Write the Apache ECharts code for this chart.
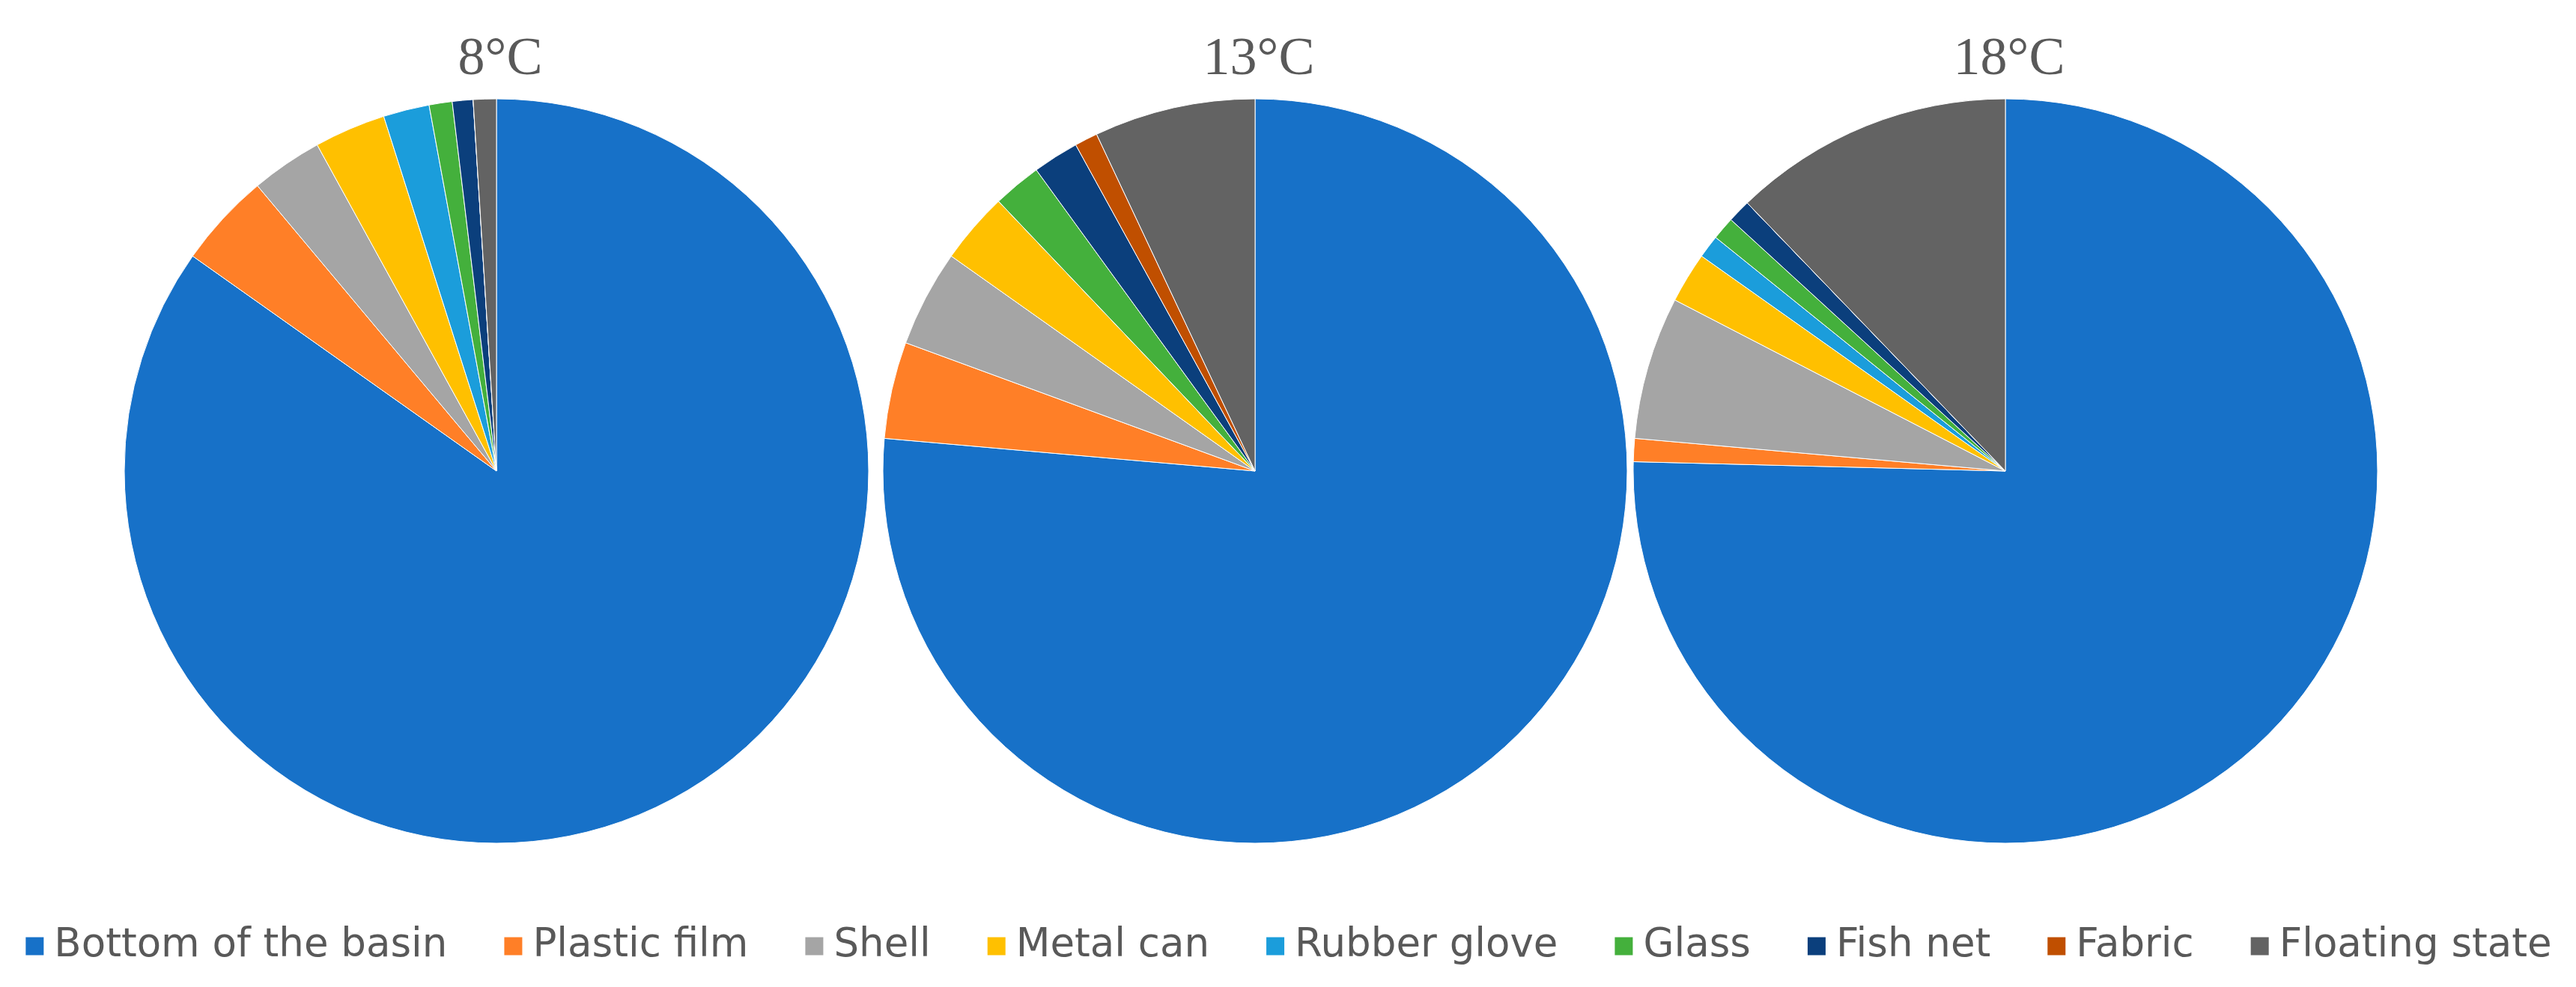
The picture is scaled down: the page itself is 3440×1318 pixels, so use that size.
<!DOCTYPE html>
<html>
<head>
<meta charset="utf-8">
<title>Pie by temperature</title>
<script src="https://cdn.jsdelivr.net/npm/echarts@6/dist/echarts.min.js"></script>
<style>
  html, body { margin: 0; padding: 0; background: #fff; }
  #chart { width: 3440px; height: 1318px; }
</style>
</head>
<body>
<div id="chart"></div>
<script>
// categories, same order as the legend
const categories = ['Bottom of the basin', 'Plastic film', 'Shell', 'Metal can', 'Rubber glove', 'Glass', 'Fish net', 'Fabric', 'Floating state']
const temperatures = ['8°C', '13°C', '18°C']
// share (%) per category
const values8 = [84.8, 4.1, 3.1, 3.1, 2.0, 1.0, 0.9, 0, 1.0]
const values13 = [76.4, 4.2, 4.2, 3.1, 0, 2.1, 2.0, 1.0, 7.0]
const values18 = [75.4, 1.0, 6.2, 2.2, 1.0, 1.0, 1.0, 0, 12.2]

const colors = ['#1771C8', '#FF7F27', '#A5A5A5', '#FFC000', '#1B9DDB', '#44B03C', '#0B3F7C', '#C04F00', '#636363']
const centersX = [663, 1676, 2678]

const seriesValues = [values8, values13, values18]

const myChart = echarts.init(document.getElementById('chart'))

const option = {
  animation: false,
  color: colors,
  title: temperatures.map((t, i) => ({
    text: t,
    left: centersX[i],
    top: 39,
    textAlign: 'center',
    textStyle: {
      fontFamily: 'Liberation Serif',
      fontWeight: 'normal',
      fontSize: 72,
      color: '#595959'
    }
  })),
  legend: {
    data: categories,
    left: 'center',
    top: 1232,
    icon: 'rect',
    itemWidth: 26,
    itemHeight: 26,
    itemGap: 74,
    textStyle: {
      fontFamily: 'DejaVu Sans',
      fontSize: 53,
      color: '#595959',
      padding: [0, 0, 0, 8]
    }
  },
  series: seriesValues.map((vals, i) => ({
    name: temperatures[i],
    type: 'pie',
    center: [centersX[i], 629],
    radius: 497,
    startAngle: 90,
    clockwise: true,
    label: { show: false },
    labelLine: { show: false },
    emphasis: { disabled: true },
    itemStyle: {
      borderColor: '#ffffff',
      borderWidth: 1
    },
    data: categories.map((c, j) => ({ name: c, value: vals[j] }))
  }))
}

myChart.setOption(option)
</script>
</body>
</html>
